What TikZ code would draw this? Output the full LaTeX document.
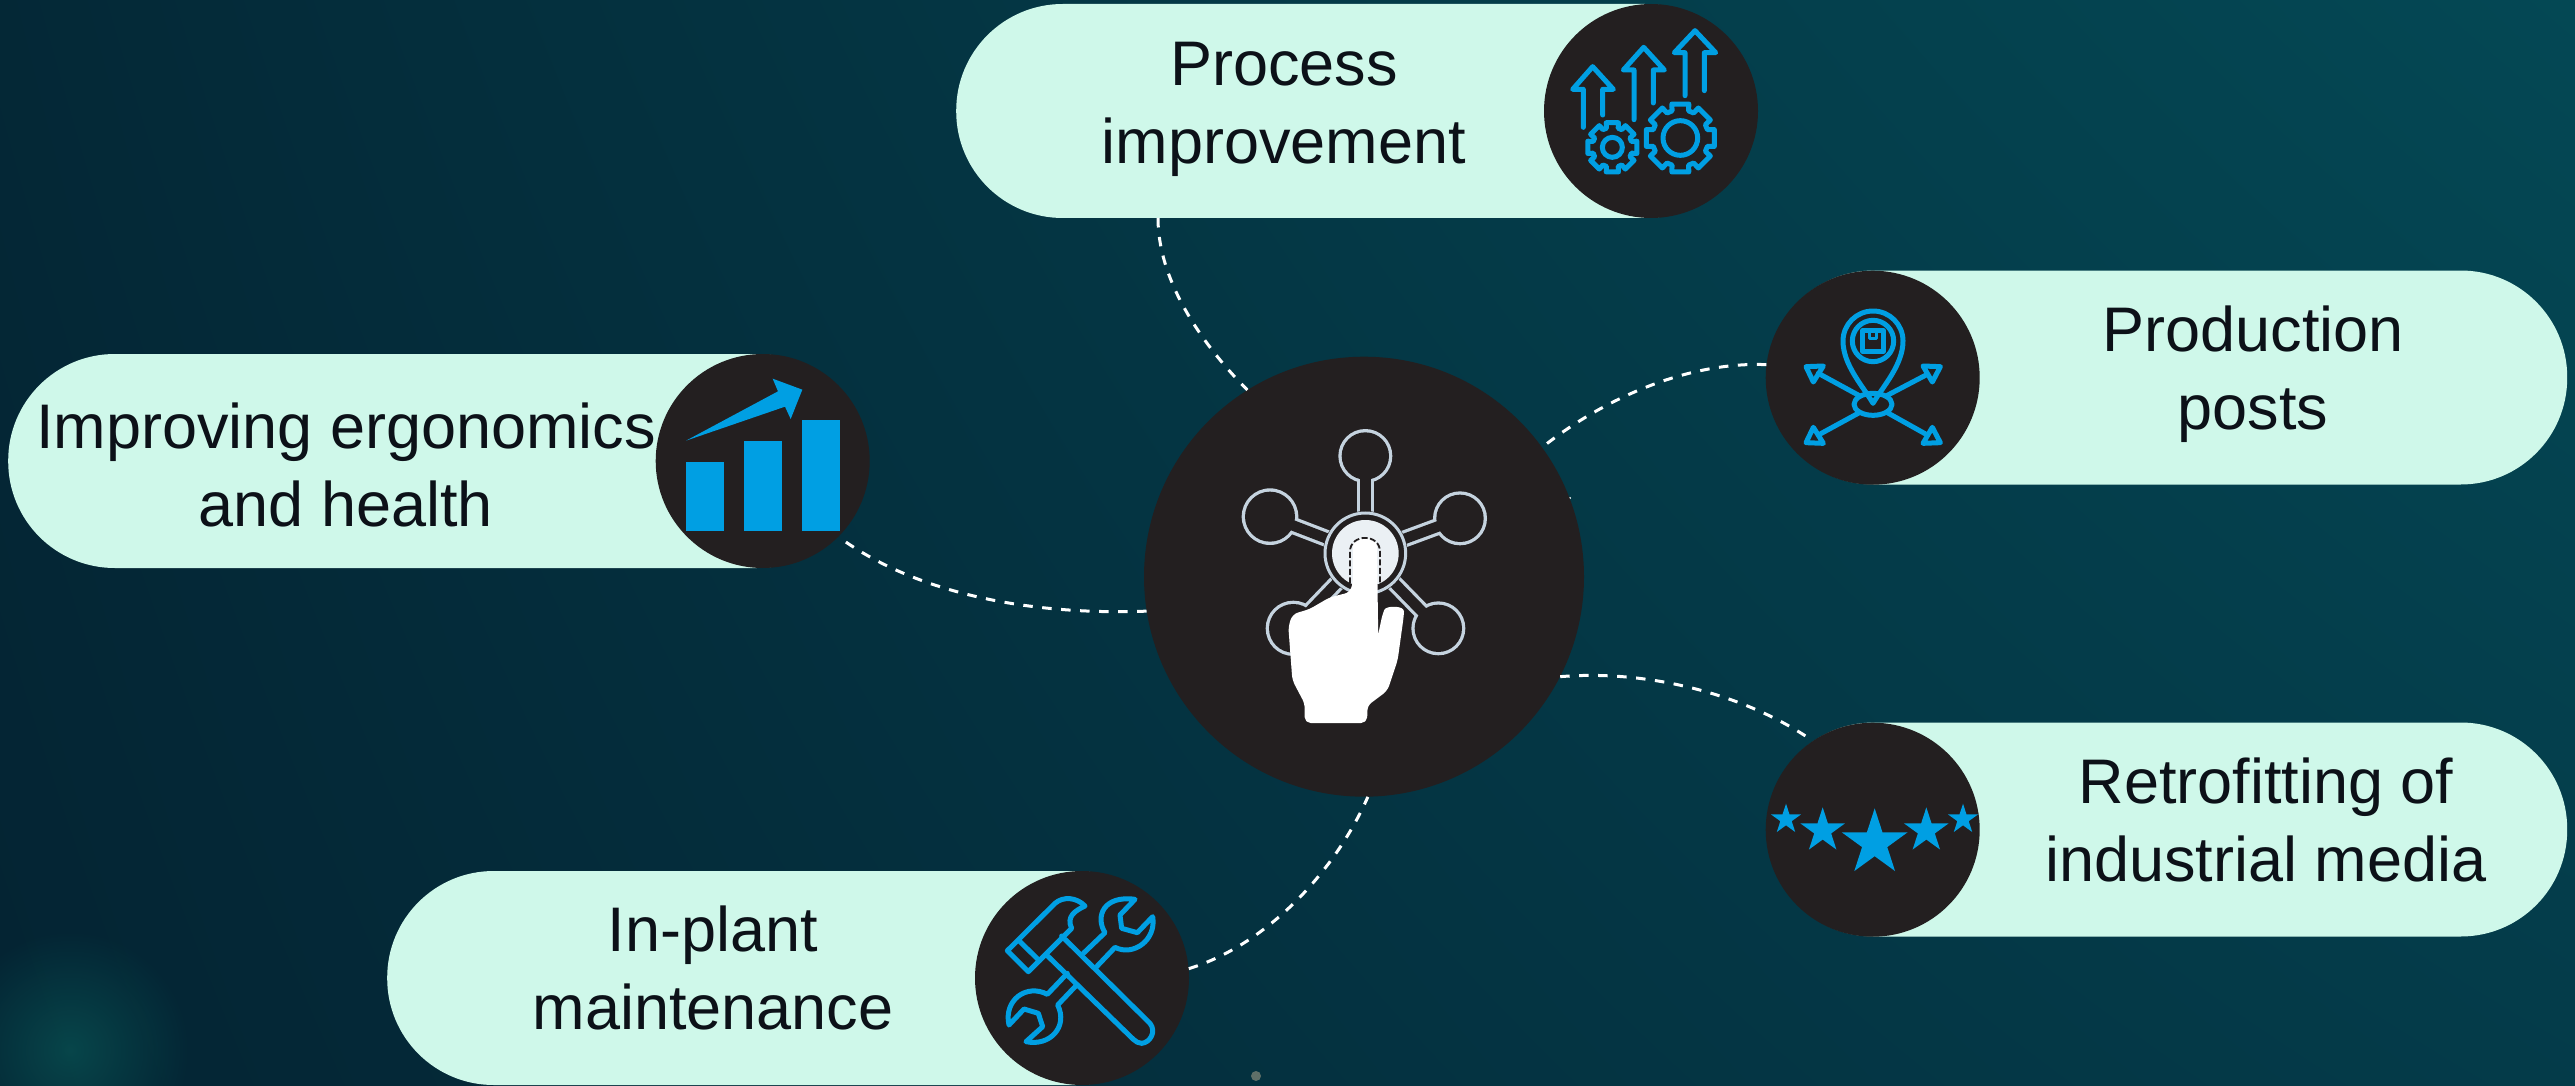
\documentclass[tikz,border=0pt]{standalone}
\usepackage{fontspec}
\setmainfont{Liberation Sans}
\usetikzlibrary{fadings}
\definecolor{pillc}{HTML}{CFF8EA}
\definecolor{darkc}{HTML}{231F20}
\definecolor{iconc}{HTML}{009FE3}
\definecolor{hubline}{HTML}{C5D3DF}
\definecolor{textc}{HTML}{0C1118}
\definecolor{glowc}{HTML}{0B6E66}
\definecolor{specc}{HTML}{5F6F68}
\pgfdeclarefunctionalshading{bgshade}{\pgfpointorigin}{\pgfpoint{100bp}{100bp}}{}{
 100 div exch 100 div exch
 1 index mul
 exch dup dup 2 exch sub mul
 2 mul add 0.05 mul
 2 copy exch 0.135 mul add 0.075 add
 3 1 roll
 exch 0.115 mul add 0.135 add
 0.015 3 1 roll
}
\tikzfading[name=glowfade,inner color=transparent!55,outer color=transparent!100]
\tikzset{
 x=1pt,y=-1pt,
 pill/.style={fill=pillc,rounded corners=106.5pt,draw=none,minimum height=214pt,inner sep=0pt,anchor=west},
 disc/.style={circle,fill=darkc,draw=none,inner sep=0pt,minimum size=214pt},
 hubdisc/.style={circle,fill=darkc,draw=none,inner sep=0pt,minimum size=440pt},
 label/.style={align=center,text=textc,font=\fontsize{63}{78}\selectfont,inner sep=0pt},
 link/.style={draw=white,line width=3pt,dash pattern=on 9.5pt off 9.5pt},
 iconline/.style={draw=iconc,line width=5pt,line join=round,line cap=round},
 zoomed/.style={x=0.33333pt,y=-0.33333pt},
}
\newcommand{\gearicon}[4]{%
 \begin{scope}[shift={(#1,#2)}]
 \draw[iconline] (-14:#3) \foreach \a in {0,45,...,315}{ -- (\a-14:#3) -- (\a+14:#3) -- (\a+17:#4) -- (\a+28:#4)} -- cycle;
 \end{scope}}
\newcommand{\starshape}[3]{%
 \begin{scope}[shift={(#1,#2)}]
 \fill[iconc] (-90:#3) \foreach \a in {-90,-18,54,126,198}{ -- (\a:#3) -- (\a+36:#3*0.382)} -- cycle;
 \end{scope}}
\begin{document}
\begin{tikzpicture}
\useasboundingbox (0,0) rectangle (2575,1086);
\path[shading=bgshade] (0,0) rectangle (2575,1086);
\fill[glowc,path fading=glowfade] (70,1050) circle (120);
\fill[specc] (1256,1076) circle (5);
\fill[white] (1570,498) circle (1.2);

% pills
\node[pill,minimum width=795pt] (pa) at (956,111) {};
\node[pill,minimum width=800pt] (pb) at (1767,377.5) {};
\node[pill,minimum width=855pt] (pc) at (8,461) {};
\node[pill,minimum width=795pt] (pd) at (387,978) {};
\node[pill,minimum width=800pt] (pe) at (1767,829.5) {};

% discs
\node[hubdisc] (hub) at (1364,576.7) {};
\node[disc] (da) at (1651,111) {};
\node[disc] (db) at (1872.7,377.7) {};
\node[disc] (dc) at (762.7,461) {};
\node[disc] (dd) at (1082,978) {};
\node[disc] (de) at (1872.7,829.7) {};

% connectors
\coordinate (ptop) at (1158,218);
\draw[link] (ptop) .. controls +(0,70) and +(-35,-35) .. (hub.122);
\draw[link] (db.173) .. controls +(-75,-3) and +(66,-52) .. (hub.36);
\draw[link] (hub.189.6) .. controls +(-105,4) and +(83,61) .. (dc.-45);
\draw[link] (dd.5) .. controls +(78,-24) and +(-33,75) .. (hub.-89);
\draw[link] (hub.-27) .. controls +(83,-7) and +(-71,-49) .. (de.124);

% labels
\node[label] (ta) at (1284,109) {Process\\improvement};
\node[label] (tb) at (2253,374) {Production\\posts};
\node[label] (tc) at (346,465) {Improving ergonomics\\and health};
\node[label] (td) at (713,968) {In-plant\\maintenance};
\node[label] (te) at (2266,820) {Retrofitting of\\industrial media};

% process icon
\begin{scope}[shift={(1500,0)},zoomed]
\draw[iconline] (250,382) -- (250,268) -- (218,268) -- (278,200) -- (340,268) -- (308,268) -- (308,345);
\draw[iconline] (402,359) -- (402,210) -- (370,210) -- (431,142) -- (493,210) -- (460,210) -- (460,309);
\draw[iconline] (555,287) -- (555,158) -- (523,158) -- (585,92) -- (647,158) -- (613,158) -- (613,272);
\gearicon{337}{442}{76}{60}
\gearicon{541}{414}{105}{85}
\draw[iconline] (337,442) circle[radius=30];
\draw[iconline] (541,414) circle[radius=52];
\end{scope}

% production icon
\begin{scope}[shift={(1750,260)},zoomed]
\draw[iconline] (369,430) .. controls (340,380) and (279,315) .. (279,243) arc[start angle=180,end angle=360,radius=90] .. controls (459,315) and (398,380) .. cycle;
\draw[iconline] (369,243) circle[radius=62];
\draw[iconline] (338,212) rectangle (400,274);
\draw[iconline,line width=3.5pt] (358,212) -- (358,236) -- (380,236) -- (380,212);
\draw[iconline] (369,433) ellipse[x radius=57,y radius=33];
\draw[iconline] (328,407) -- (205,340);
\draw[iconline] (410,407) -- (532,343);
\draw[iconline] (328,458) -- (205,525);
\draw[iconline] (412,458) -- (532,525);
\draw[iconline] (168,320) -- (220,318) -- (190,366) -- cycle;
\draw[iconline] (519,318) -- (571,320) -- (547,366) -- cycle;
\draw[iconline] (190,502) -- (168,548) -- (220,550) -- cycle;
\draw[iconline] (547,502) -- (519,550) -- (571,548) -- cycle;
\end{scope}

% chart icon
\begin{scope}[shift={(640,350)},zoomed]
\fill[iconc] (138,336) rectangle (252,543);
\fill[iconc] (312,273) rectangle (426,543);
\fill[iconc] (486,210) rectangle (600,543);
\fill[iconc] (138,272) -- (414,124) -- (398,86) -- (487,119) -- (452,207) -- (435,170) -- cycle;
\end{scope}

% tools icon
\begin{scope}[shift={(960,860)},zoomed]
\draw[iconline] (142,272) -- (285,130) .. controls (310,108) and (350,112) .. (375,138) .. controls (345,152) and (318,170) .. (335,205) -- (205,335) -- cycle;
\draw[iconline] (180,245) -- (238,302);
\draw[iconline] (305,228) -- (570,490) .. controls (590,515) and (570,548) .. (545,550) .. controls (535,550) and (528,545) .. (520,538) -- (262,287);
\draw[iconline] (370,280) -- (435,218) .. controls (405,170) and (430,105) .. (525,118) -- (480,165) -- (485,205) -- (532,218) -- (578,170) .. controls (590,240) and (520,290) .. (465,262) -- (408,322);
\draw[iconline] (322,340) -- (262,403) .. controls (200,370) and (130,420) .. (147,495) -- (192,447) -- (235,460) -- (248,500) -- (198,545) .. controls (270,560) and (325,500) .. (293,435) -- (350,375);
\end{scope}

% stars icon
\begin{scope}[shift={(1750,720)},zoomed]
\starshape{108}{298}{47}
\starshape{218}{332}{70}
\starshape{374}{369}{104}
\starshape{529}{332}{70}
\starshape{639}{298}{47}
\end{scope}

% hub icon
\begin{scope}[shift={(1130,350)},zoomed]
\foreach \px/\py/\pr in {706/318/76,420/500/80,990/505/76,490/835/78,925/835/76}{
 \fill[hubline] (\px,\py) circle[radius=\pr+5];
 \draw[hubline,line width=17pt] (706,610) -- (\px,\py);
}
\foreach \px/\py/\pr in {706/318/76,420/500/80,990/505/76,490/835/78,925/835/76}{
 \fill[darkc] (\px,\py) circle[radius=\pr-5];
 \draw[darkc,line width=10.5pt] (706,610) -- (\px,\py);
}
\fill[darkc] (706,610) circle[radius=127];
\draw[hubline,line width=3pt] (706,610) circle[radius=121];
\fill[hubline!35!white] (706,610) circle[radius=100];
\fill[white,draw=white,line width=2pt,line join=round,rounded corners=5pt] (527,1116) -- (527,1060) -- (490,990) -- (478,830) -- (490,795) -- (540,780) -- (600,745) -- (660,730) -- (672,700) -- (672,605) .. controls (672,560) and (738,560) .. (738,605) -- (742,880) -- (760,795) .. controls (770,770) and (820,770) .. (818,800) -- (800,930) -- (770,1020) -- (710,1065) -- (708,1116) -- cycle;
\draw[darkc,line width=1.8pt,dash pattern=on 6pt off 2.5pt] (660,700) -- (660,605) .. controls (660,550) and (750,550) .. (750,605) -- (750,700);
\end{scope}
\end{tikzpicture}
\end{document}
